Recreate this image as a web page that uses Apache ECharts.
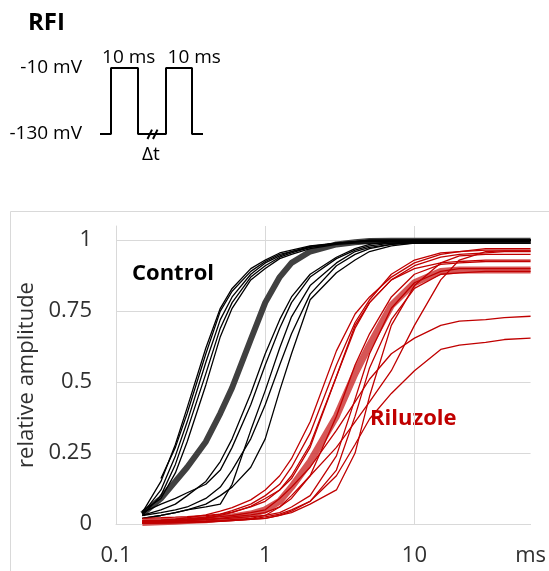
<!DOCTYPE html>
<html><head><meta charset="utf-8">
<script src="https://cdn.jsdelivr.net/npm/echarts@6/dist/echarts.min.js"></script>
<style>html,body{margin:0;padding:0;background:#fff;}#c{width:549px;height:571px;}</style>
</head><body><div id="c"></div>
<script>
// interpulse interval Δt (ms) sample points
const intervalsMs = [0.15, 0.2, 0.25, 0.3, 0.4, 0.5, 0.6, 0.8, 1, 1.25, 1.5, 2, 3, 4, 5, 7, 10, 15, 20, 30, 40, 60];

// Control recordings (relative amplitude)
const control1 = [0.04, 0.15, 0.28, 0.41, 0.62, 0.76, 0.83, 0.9, 0.93, 0.955, 0.965, 0.98, 0.99, 0.995, 1, 1, 1, 1, 1, 1, 1, 1];
const control2 = [0.035, 0.12, 0.24, 0.36, 0.57, 0.72, 0.8, 0.88, 0.92, 0.945, 0.96, 0.975, 0.99, 0.995, 0.998, 1, 1, 1, 1, 1, 1, 1];
const control3 = [0.03, 0.1, 0.21, 0.33, 0.53, 0.69, 0.78, 0.87, 0.91, 0.94, 0.955, 0.975, 0.988, 0.993, 0.995, 0.995, 0.995, 0.995, 0.995, 0.995, 0.995, 0.995];
const control4 = [null, 0.16, 0.27, 0.39, 0.6, 0.75, 0.82, 0.89, 0.925, 0.95, 0.96, 0.978, 0.99, 0.995, 1, 1, 1, 1, 1, 1, 1, 1];
const control5 = [0.045, 0.09, 0.18, 0.29, 0.49, 0.66, 0.76, 0.86, 0.9, 0.935, 0.95, 0.97, 0.985, 0.99, 0.99, 0.99, 0.99, 0.99, 0.99, 0.99, 0.99, 0.99];
const control6 = [0.03, 0.05, 0.07, 0.1, 0.15, 0.22, 0.3, 0.46, 0.6, 0.72, 0.8, 0.88, 0.94, 0.97, 0.985, 0.995, 1, 1, 1, 1, 1, 1];
const control7 = [0.04, 0.07, 0.09, 0.11, 0.14, 0.19, 0.27, 0.42, 0.56, 0.69, 0.78, 0.87, 0.935, 0.965, 0.98, 0.99, 0.995, 1, 1, 1, 1, 1];
const control8 = [0.02, 0.03, 0.04, 0.05, 0.06, 0.07, 0.14, 0.33, 0.47, 0.62, 0.73, 0.84, 0.92, 0.96, 0.975, 0.985, 0.99, 0.99, 0.99, 0.99, 0.99, 0.99];
const control9 = [0.03, 0.04, 0.05, 0.06, 0.09, 0.13, 0.19, 0.3, 0.42, 0.56, 0.67, 0.81, 0.91, 0.95, 0.97, 0.985, 0.995, 1, 1, 1, 1, 1];
const control10 = [0.02, 0.03, 0.04, 0.05, 0.07, 0.1, 0.13, 0.2, 0.3, 0.47, 0.6, 0.79, 0.885, 0.93, 0.96, 0.98, 0.99, 0.995, 1, 1, 1, 1];
const controlMean = [0.035, 0.09, 0.15, 0.2, 0.29, 0.39, 0.48, 0.65, 0.78, 0.87, 0.92, 0.96, 0.985, 0.993, 0.997, 0.998, 0.998, 0.998, 0.998, 0.998, 0.998, 0.998];

// Riluzole recordings (relative amplitude)
const riluzole1 = [0.01, 0.013, 0.017, 0.022, 0.032, 0.045, 0.058, 0.085, 0.12, 0.17, 0.23, 0.36, 0.61, 0.74, 0.8, 0.87, 0.92, 0.95, 0.96, 0.97, 0.97, 0.97];
const riluzole2 = [0.005, 0.008, 0.012, 0.016, 0.025, 0.035, 0.047, 0.07, 0.1, 0.14, 0.2, 0.32, 0.56, 0.71, 0.79, 0.88, 0.93, 0.955, 0.96, 0.965, 0.965, 0.965];
const riluzole3 = [0.003, 0.006, 0.009, 0.013, 0.02, 0.03, 0.04, 0.062, 0.09, 0.12, 0.17, 0.28, 0.52, 0.69, 0.78, 0.86, 0.91, 0.94, 0.95, 0.955, 0.96, 0.96];
const riluzole4 = [0.02, 0.022, 0.024, 0.026, 0.03, 0.035, 0.042, 0.06, 0.08, 0.12, 0.16, 0.27, 0.52, 0.7, 0.78, 0.86, 0.9, 0.92, 0.925, 0.93, 0.93, 0.93];
const riluzole5 = [0.005, 0.006, 0.007, 0.008, 0.01, 0.012, 0.015, 0.02, 0.03, 0.04, 0.06, 0.1, 0.24, 0.44, 0.6, 0.76, 0.85, 0.89, 0.9, 0.9, 0.9, 0.9];
const riluzole6 = [0.002, 0.003, 0.004, 0.005, 0.007, 0.009, 0.012, 0.017, 0.025, 0.035, 0.05, 0.08, 0.19, 0.38, 0.55, 0.72, 0.83, 0.88, 0.885, 0.89, 0.89, 0.89];
const riluzole7 = [0.004, 0.005, 0.006, 0.007, 0.009, 0.011, 0.013, 0.016, 0.02, 0.03, 0.04, 0.07, 0.12, 0.25, 0.45, 0.7, 0.84, 0.92, 0.945, 0.95, 0.95, 0.95];
const riluzole8 = [0.01, 0.011, 0.012, 0.014, 0.017, 0.02, 0.025, 0.032, 0.04, 0.06, 0.09, 0.17, 0.38, 0.56, 0.67, 0.8, 0.88, 0.915, 0.92, 0.925, 0.925, 0.925];
const riluzole9 = [0.008, 0.009, 0.01, 0.012, 0.015, 0.018, 0.021, 0.026, 0.03, 0.06, 0.1, 0.17, 0.27, 0.36, 0.43, 0.54, 0.7, 0.86, 0.93, 0.96, 0.962, 0.962];
const riluzole10 = [0.012, 0.014, 0.016, 0.018, 0.022, 0.026, 0.03, 0.04, 0.05, 0.09, 0.13, 0.2, 0.33, 0.43, 0.51, 0.6, 0.655, 0.7, 0.715, 0.72, 0.727, 0.732];
const riluzole11 = [0.003, 0.004, 0.005, 0.006, 0.008, 0.01, 0.012, 0.016, 0.02, 0.03, 0.045, 0.08, 0.17, 0.28, 0.37, 0.46, 0.54, 0.615, 0.63, 0.64, 0.65, 0.655];
const riluzoleMean = [0.005, 0.008, 0.01, 0.012, 0.015, 0.02, 0.025, 0.035, 0.05, 0.08, 0.13, 0.22, 0.38, 0.53, 0.63, 0.77, 0.85, 0.89, 0.895, 0.895, 0.895, 0.895];

// y-axis ticks
const yTicks = [0, 0.25, 0.5, 0.75, 1];
const xTickLabels = ['0.1', '1', '10', 'ms'];

// protocol schematic (schematic time units, mV)
const protocolT = [0, 11, 11, 38, 38, 66, 66, 92, 92, 103];
const protocolV = [-130, -130, -10, -10, -130, -130, -10, -10, -130, -130];
const breakMark1T = [47.5, 52];
const breakMark2T = [53, 57.5];
const breakMarkV = [-139, -122];
const protocolLevels = [-130, -10];

const FONT = "'Open Sans', 'Liberation Sans', sans-serif";
const controlSets = [control1, control2, control3, control4, control5, control6, control7, control8, control9, control10];
const riluzoleSets = [riluzole1, riluzole2, riluzole3, riluzole4, riluzole5, riluzole6, riluzole7, riluzole8, riluzole9, riluzole10, riluzole11];

function pairs(ys) {
  const out = [];
  intervalsMs.forEach((x, i) => { if (ys[i] !== null) out.push([x, ys[i]]); });
  return out;
}
function line(ys, color, width) {
  return {
    type: 'line', xAxisIndex: 0, yAxisIndex: 0, data: pairs(ys), symbol: 'none',
    lineStyle: { color: color, width: width }, silent: true, animation: false
  };
}

const series = [];
series.push(line(controlMean, '#404040', 6));
controlSets.forEach(s => series.push(line(s, '#000000', 1.3)));
series.push(line(riluzoleMean, 'rgba(200,30,30,0.75)', 7));
riluzoleSets.forEach(s => series.push(line(s, '#C00000', 1.3)));

// schematic
series.push({
  type: 'line', xAxisIndex: 1, yAxisIndex: 1, symbol: 'none', clip: false, animation: false,
  data: protocolT.map((t, i) => [t, protocolV[i]]),
  lineStyle: { color: '#000', width: 2 }
});
[breakMark1T, breakMark2T].forEach(bt => series.push({
  type: 'line', xAxisIndex: 1, yAxisIndex: 1, symbol: 'none', clip: false, animation: false,
  data: bt.map((t, i) => [t, breakMarkV[i]]),
  lineStyle: { color: '#000', width: 2 }
}));

const chart = echarts.init(document.getElementById('c'), null, { renderer: 'canvas' });
chart.setOption({
  animation: false,
  backgroundColor: '#ffffff',
  grid: [
    { left: 116, right: 17, top: 226, bottom: 47 },
    { left: 100, top: 68, width: 103, height: 66 }
  ],
  xAxis: [
    {
      type: 'log', logBase: 10, min: 0.1, max: 60, gridIndex: 0,
      axisLine: { show: true, lineStyle: { color: '#d9d9d9', width: 1 } },
      axisTick: { show: false },
      splitLine: { show: true, showMaxLine: false, lineStyle: { color: '#d9d9d9', width: 1 } },
      axisLabel: {
        margin: 21, fontSize: 22, fontFamily: FONT, color: '#303030',
        formatter: v => v > 30 ? xTickLabels[3] : (v < 0.5 ? xTickLabels[0] : (v < 5 ? xTickLabels[1] : xTickLabels[2]))
      }
    },
    { type: 'value', gridIndex: 1, min: 0, max: 103, show: false }
  ],
  yAxis: [
    {
      type: 'value', gridIndex: 0, min: yTicks[0], max: 1.05, interval: 0.25,
      name: 'relative amplitude', nameLocation: 'middle', nameGap: 68,
      nameTextStyle: { fontSize: 22, fontFamily: FONT, color: '#303030' },
      axisLine: { show: true, lineStyle: { color: '#d9d9d9', width: 1 } },
      axisTick: { show: false },
      splitLine: { show: true, showMaxLine: false, lineStyle: { color: '#d9d9d9', width: 1 } },
      axisLabel: {
        margin: 24, fontSize: 22, fontFamily: FONT, color: '#303030', showMaxLabel: false,
        formatter: v => (yTicks.indexOf(v) >= 0 ? String(v) : '')
      }
    },
    {
      type: 'value', gridIndex: 1, min: protocolLevels[0], max: protocolLevels[1], interval: 120,
      axisLine: { show: false }, axisTick: { show: false }, splitLine: { show: false },
      axisLabel: { margin: 18, fontSize: 19, fontFamily: FONT, color: '#000', formatter: v => v + ' mV' }
    }
  ],
  graphic: [
    { type: 'rect', z: -10, shape: { x: 10.5, y: 211.5, width: 700, height: 500 },
      style: { fill: 'none', stroke: '#d9d9d9', lineWidth: 1 } },
    { type: 'text', x: 28, y: 23.5, style: { text: 'RFI', font: "bold 24px " + FONT, fill: '#000', textVerticalAlign: 'middle' } },
    { type: 'text', x: 128.7, y: 57.5, style: { text: '10 ms', font: "19px " + FONT, fill: '#000', textAlign: 'center', textVerticalAlign: 'middle' } },
    { type: 'text', x: 194.2, y: 57.5, style: { text: '10 ms', font: "19px " + FONT, fill: '#000', textAlign: 'center', textVerticalAlign: 'middle' } },
    { type: 'text', x: 151, y: 155, style: { text: 'Δt', font: "19px " + FONT, fill: '#000', textAlign: 'center', textVerticalAlign: 'middle' } },
    { type: 'text', x: 132, y: 273.5, style: { text: 'Control', font: "bold 22px " + FONT, fill: '#000', textVerticalAlign: 'middle' } },
    { type: 'text', x: 370, y: 418.5, style: { text: 'Riluzole', font: "bold 22px " + FONT, fill: '#C00000', textVerticalAlign: 'middle' } }
  ],
  series: series
});
</script>
</body></html>
